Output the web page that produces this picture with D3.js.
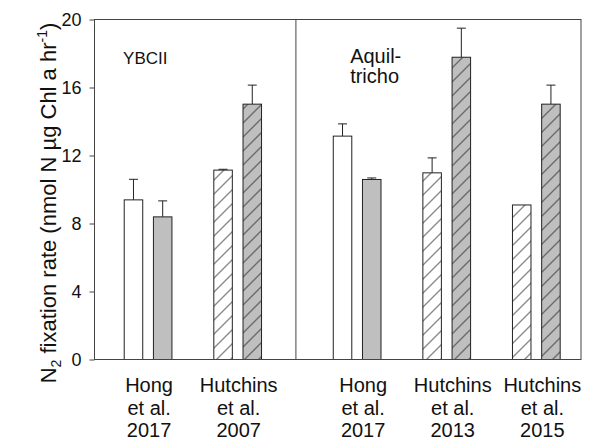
<!DOCTYPE html>
<html>
<head>
<meta charset="utf-8">
<script src="https://cdn.jsdelivr.net/npm/d3@7"></script>
<style>
  body { margin: 0; background: #fff; }
  text { font-family: "Liberation Sans", Arial, sans-serif; fill: #111; }
</style>
</head>
<body>
<div id="barplot"></div>
<script>
// studies (x categories), one group of two bars per study
const studies = ["Hong et al. 2017", "Hutchins et al. 2007", "Hong et al. 2017", "Hutchins et al. 2013", "Hutchins et al. 2015"];
const panels = ["YBCII", "YBCII", "Aquil-tricho", "Aquil-tricho", "Aquil-tricho"];
const hatched = [false, true, false, true, true];
// first bar (white) and second bar (gray) of every group
const whiteValues = [9.39, 11.14, 13.14, 10.98, 9.09];
const whiteErrors = [1.21, 0.05, 0.72, 0.88, 0];
const grayValues = [8.39, 15.02, 10.59, 17.78, 15.02];
const grayErrors = [0.94, 1.12, 0.09, 1.71, 1.12];
const yTicks = [0, 4, 8, 12, 16, 20];

(function() {
// set the dimensions and margins of the graph
const margin = {top: 19.5, right: 14, bottom: 80.5, left: 94.5},
      width = 595 - margin.left - margin.right,
      height = 440 - margin.top - margin.bottom;

let svg = d3.select("#barplot")
  .append("svg")
    .attr("width", width + margin.left + margin.right)
    .attr("height", height + margin.top + margin.bottom)
  .append("g")
    .attr("transform", "translate(" + margin.left + "," + margin.top + ")");

// slot of each group: one slot per study, plus a wider gap between the two panels
let slots = studies.map((d, i) => i + (panels[i] !== panels[0] ? 1 / 3 : 0));

let x = d3.scaleLinear()
  .domain([-0.598, 4.832])
  .range([0, width]);

let step = x(1) - x(0);
let inner = d3.scaleBand()
  .domain(["white", "gray"])
  .range([-0.326 * step, 0.326 * step])
  .paddingInner(0.366)
  .paddingOuter(0.183);

let y = d3.scaleLinear()
  .domain([0, 20])
  .range([height, 0]);

// hatch patterns
let defs = svg.append("defs");
[["hatchWhite", "#fff"], ["hatchGray", "#bfbfbf"]].forEach(function(p) {
  let pat = defs.append("pattern")
    .attr("id", p[0])
    .attr("patternUnits", "userSpaceOnUse")
    .attr("width", 14)
    .attr("height", 14);
  pat.append("rect").attr("width", 14).attr("height", 14).attr("fill", p[1]);
  pat.append("path")
    .attr("d", "M0,14 L14,0 M-3,3 L3,-3 M11,17 L17,11")
    .attr("stroke", "#1a1a1a")
    .attr("stroke-width", 1);
});

// build a flat table of bars from the arrays
let bars = [];
studies.forEach(function(s, i) {
  bars.push({i: i, key: "white", value: whiteValues[i], err: whiteErrors[i],
             fill: hatched[i] ? "url(#hatchWhite)" : "#fff"});
  bars.push({i: i, key: "gray", value: grayValues[i], err: grayErrors[i],
             fill: hatched[i] ? "url(#hatchGray)" : "#bfbfbf"});
});

// error bars (upper only)
let err = svg.append("g")
  .attr("stroke", "#222")
  .attr("stroke-width", 1)
  .selectAll("g")
  .data(bars.filter(d => d.err > 0))
  .enter().append("g")
  .attr("transform", d => "translate(" + (x(slots[d.i]) + inner(d.key) + inner.bandwidth() / 2) + ",0)");
err.append("line")
  .attr("y1", d => y(d.value))
  .attr("y2", d => y(d.value + d.err));
err.append("line")
  .attr("x1", -4.5)
  .attr("x2", 4.5)
  .attr("y1", d => y(d.value + d.err))
  .attr("y2", d => y(d.value + d.err));

// Show the bars
svg.append("g")
  .selectAll("rect")
  .data(bars)
  .enter().append("rect")
    .attr("x", d => x(slots[d.i]) + inner(d.key))
    .attr("y", d => y(d.value))
    .attr("width", inner.bandwidth())
    .attr("height", d => y(0) - y(d.value))
    .attr("fill", d => d.fill)
    .attr("stroke", "#222")
    .attr("stroke-width", 1);

// Add Y axis
let yAxis = svg.append("g")
  .call(d3.axisLeft(y).tickValues(yTicks).tickSize(5).tickSizeOuter(0).tickPadding(8));
yAxis.select(".domain").remove();
yAxis.selectAll("line").attr("stroke", "#444");
yAxis.selectAll("text")
  .style("font-size", "18px")
  .style("font-family", "'Liberation Sans', Arial, sans-serif")
  .attr("fill", "#111");

// frame and panel divider
svg.append("rect")
  .attr("width", width)
  .attr("height", height)
  .attr("fill", "none")
  .attr("stroke", "#444");
svg.append("line")
  .attr("x1", x(1.65))
  .attr("x2", x(1.65))
  .attr("y1", 0)
  .attr("y2", height)
  .attr("stroke", "#444");

// panel names
svg.append("text")
  .attr("x", x(slots[0]) - 25)
  .attr("y", 44)
  .style("font-size", "17px")
  .text(panels[0]);
let aq = svg.append("text")
  .style("font-size", "20px");
panels[2].split("-").forEach(function(part, k, arr) {
  aq.append("tspan")
    .attr("x", x(slots[2]) - 7)
    .attr("y", 43.5 + k * 20)
    .text(part + (k < arr.length - 1 ? "-" : ""));
});

// study labels below the axis, three lines each
studies.forEach(function(s, i) {
  let words = s.split(" ");
  let lines = [words[0], words[1] + " " + words[2], words[3]];
  let shift = panels[i] !== panels[0] ? 6 : 1;
  let t = svg.append("text")
    .attr("text-anchor", "middle")
    .style("font-size", "20px");
  lines.forEach(function(l, k) {
    t.append("tspan")
      .attr("x", x(slots[i]) + shift)
      .attr("y", height + 32.5 + k * 22.7)
      .text(l);
  });
});

// y axis title
let title = svg.append("text")
  .attr("transform", "translate(" + (56 - margin.left) + "," + (203 - margin.top) + ") rotate(-90)")
  .attr("text-anchor", "middle")
  .style("font-size", "22px");
title.append("tspan").text("N");
title.append("tspan").attr("dy", 5).style("font-size", "14px").text("2");
title.append("tspan").attr("dy", -5).text(" fixation rate (nmol N µg Chl a hr");
title.append("tspan").attr("dy", -9).style("font-size", "14px").text("-1");
title.append("tspan").attr("dy", 9).text(")");
})();
</script>
</body>
</html>
